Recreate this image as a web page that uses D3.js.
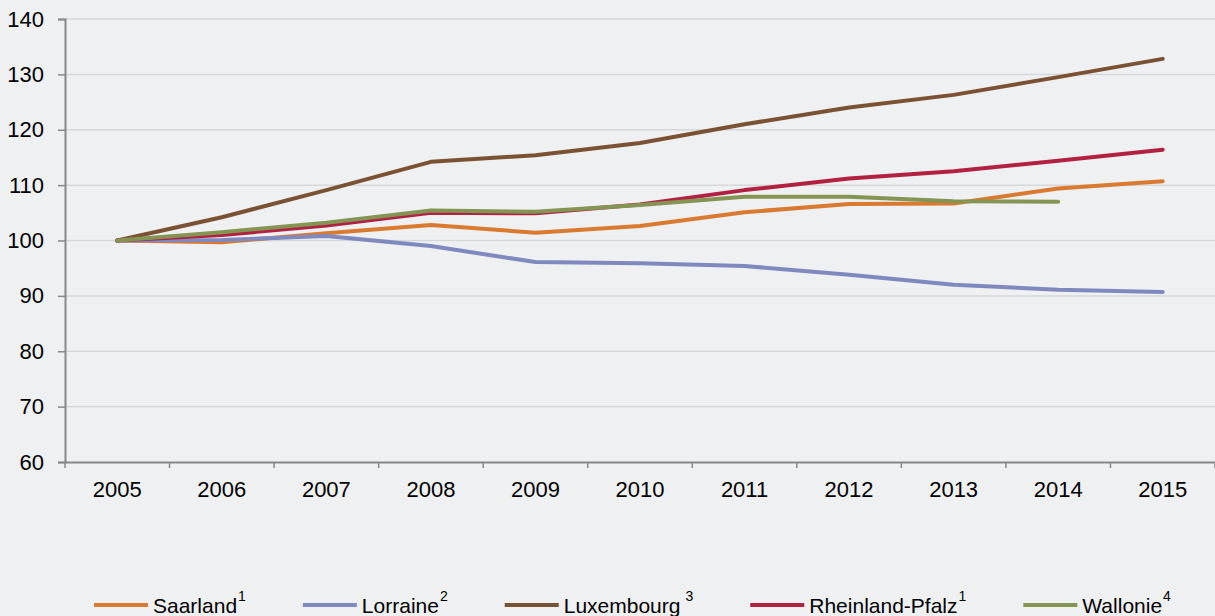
<!DOCTYPE html>
<html>
<head>
<meta charset="utf-8">
<script src="https://cdn.jsdelivr.net/npm/d3@7"></script>
<style>
  html, body { margin: 0; padding: 0; background: #eff0f2; }
  svg { display: block; font-family: "Liberation Sans", Arial, sans-serif; }
</style>
</head>
<body>
<script>
// chart data
const years = ["2005", "2006", "2007", "2008", "2009", "2010", "2011", "2012", "2013", "2014", "2015"];
const yTicks = [60, 70, 80, 90, 100, 110, 120, 130, 140];

const saarland = [100, 99.7, 101.3, 102.8, 101.4, 102.6, 105.1, 106.6, 106.7, 109.4, 110.7];
const lorraine = [100, 100.1, 100.8, 99.0, 96.1, 95.9, 95.4, 93.8, 92.0, 91.1, 90.7];
const luxembourg = [100, 104.2, 109.1, 114.2, 115.4, 117.6, 121.0, 124.0, 126.3, 129.5, 132.8];
const rheinlandPfalz = [100, 101.0, 102.7, 105.0, 104.9, 106.5, 109.1, 111.2, 112.5, 114.4, 116.4];
const wallonie = [100, 101.5, 103.2, 105.4, 105.2, 106.4, 107.9, 107.9, 107.1, 107.0, null];

const seriesNames = ["Saarland", "Lorraine", "Luxembourg", "Rheinland-Pfalz", "Wallonie"];
const seriesSup = ["1", "2", "3", "1", "4"];
const seriesValues = [saarland, lorraine, luxembourg, rheinlandPfalz, wallonie];
const seriesColors = ["#d97a30", "#7f89bd", "#7a5233", "#b22142", "#849453"];

const width = 1215;
const height = 616;
const margin = { top: 19, right: 0, bottom: 154, left: 65 };

const svg = d3.select("body").append("svg")
  .attr("width", width)
  .attr("height", height);

svg.append("rect").attr("width", width).attr("height", height).attr("fill", "#eff0f2");

const x = d3.scaleBand()
  .domain(years)
  .range([margin.left, width - margin.right]);

const y = d3.scaleLinear()
  .domain([60, 140])
  .range([height - margin.bottom, margin.top]);

// gridlines
svg.append("g")
  .selectAll("line")
  .data(yTicks.filter(d => d > 60))
  .enter()
  .append("line")
  .attr("x1", margin.left)
  .attr("x2", width - margin.right)
  .attr("y1", d => y(d))
  .attr("y2", d => y(d))
  .attr("stroke", "#d6d7d9")
  .attr("stroke-width", 1.5);

// y axis
const yAxis = svg.append("g")
  .attr("transform", `translate(${margin.left},0)`)
  .call(d3.axisLeft(y).tickValues(yTicks).tickSize(7).tickPadding(14));

// x axis, ticks between categories
const xAxis = svg.append("g")
  .attr("transform", `translate(0,${height - margin.bottom})`)
  .call(d3.axisBottom(x).tickSize(0).tickPadding(19));

xAxis.selectAll(".boundary")
  .data(years.concat(["end"]))
  .enter()
  .append("line")
  .attr("class", "boundary")
  .attr("x1", (d, i) => margin.left + i * x.step())
  .attr("x2", (d, i) => margin.left + i * x.step())
  .attr("y1", 0)
  .attr("y2", 6)
  .attr("stroke", "#878787")
  .attr("stroke-width", 1.5);

[xAxis, yAxis].forEach(ax => {
  ax.select(".domain").attr("stroke", "#878787").attr("stroke-width", 2);
  ax.selectAll(".tick line").attr("stroke", "#878787").attr("stroke-width", 1.5);
  ax.selectAll("text").attr("fill", "#000").style("font-size", "22px")
    .style("font-family", "Liberation Sans, Arial, sans-serif");
});

// lines
const line = d3.line()
  .defined(d => d != null)
  .x((d, i) => x(years[i]) + x.bandwidth() / 2)
  .y(d => y(d));

svg.append("g")
  .selectAll("path")
  .data(seriesValues)
  .enter()
  .append("path")
  .attr("d", d => line(d))
  .attr("fill", "none")
  .attr("stroke", (d, i) => seriesColors[i])
  .attr("stroke-width", 4)
  .attr("stroke-linejoin", "round")
  .attr("stroke-linecap", "round");

// legend
const legend = svg.append("g").attr("transform", "translate(94,605)");
let lx = 0;
seriesNames.forEach((name, i) => {
  const item = legend.append("g").attr("transform", `translate(${lx},0)`);
  item.append("line")
    .attr("x1", 0).attr("x2", 54)
    .attr("stroke", seriesColors[i])
    .attr("stroke-width", 4);
  const txt = item.append("text")
    .attr("x", 59)
    .attr("y", 8)
    .style("font-size", "21px")
    .attr("fill", "#000")
    .text(name);
  const tw = txt.node().getComputedTextLength();
  const gap = name === "Luxembourg" ? 5 : 1;
  const sup = item.append("text")
    .attr("x", 59 + tw + gap)
    .attr("y", -4)
    .style("font-size", "14px")
    .attr("fill", "#000")
    .text(seriesSup[i]);
  const sw = sup.node().getComputedTextLength();
  lx += 59 + tw + gap + sw + 57;
});
</script>
</body>
</html>
